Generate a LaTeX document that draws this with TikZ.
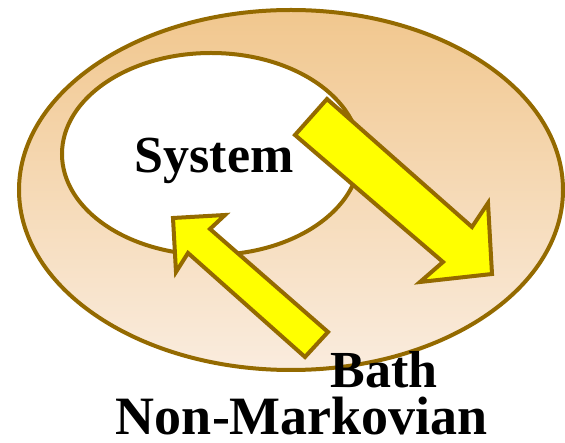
\documentclass[tikz,border=0pt]{standalone}
\usepackage{fontspec}
\setmainfont{Liberation Serif}
\definecolor{rim}{RGB}{148,106,0}
\definecolor{bathtop}{RGB}{241,199,142}
\definecolor{bathbottom}{RGB}{250,236,222}
\definecolor{flow}{RGB}{255,255,0}
\begin{document}
\begin{tikzpicture}[x=1pt,y=-1pt,
  rimline/.style={draw=rim,line width=4pt},
  bathshape/.style={rimline,top color=bathtop,bottom color=bathbottom},
  systemshape/.style={rimline,fill=white},
  flowarrow/.style={rimline,fill=flow,line join=miter},
  label/.style={inner sep=0pt,anchor=base,font=\bfseries\fontsize{52}{60}\selectfont}]
\useasboundingbox (0,0) rectangle (565,443);

% bath (outer) and system (inner)
\path[bathshape] (291,190) ellipse [x radius=272,y radius=180];
\path[systemshape] (211,154) ellipse [x radius=149,y radius=101];

% outgoing flow: system -> bath
\coordinate (o1) at (295,135);
\coordinate (o2) at (327,99);
\coordinate (o3) at (472,227);
\coordinate (o4) at (488,203);
\coordinate (o5) at (492,274);
\coordinate (o6) at (420,282);
\coordinate (o7) at (443,262);
\path[flowarrow] (o1) -- (o2) -- (o3) -- (o4) -- (o5) -- (o6) -- (o7) -- cycle;

% returning flow: bath -> system
\coordinate (r1) at (173,218);
\coordinate (r2) at (225,215);
\coordinate (r3) at (210,229);
\coordinate (r4) at (328,332);
\coordinate (r5) at (305,357);
\coordinate (r6) at (188,253);
\coordinate (r7) at (176,272);
\path[flowarrow] (r1) -- (r2) -- (r3) -- (r4) -- (r5) -- (r6) -- (r7) -- cycle;

% labels
\node[label] (sys) at (214,173) {System};
\node[label] (bath) at (384,388) {Bath};
\node[label,font=\bfseries\fontsize{54}{62}\selectfont] (nm) at (302,435) {Non-Markovian};
\end{tikzpicture}
\end{document}
